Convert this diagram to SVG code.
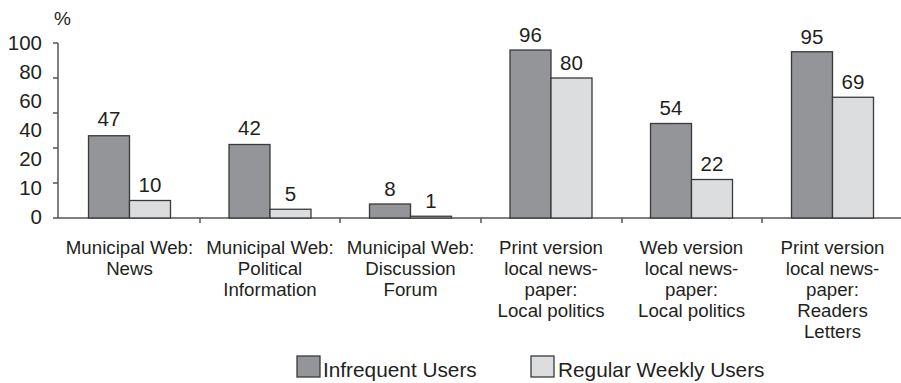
<svg xmlns="http://www.w3.org/2000/svg" width="901" height="383" viewBox="0 0 901 383">
<style>
text{font-family:"Liberation Sans",Arial,sans-serif;fill:#231f20}
.ax{font-size:20.5px;text-anchor:end}
.val{font-size:20.5px;text-anchor:middle}
.cat{font-size:18.7px;text-anchor:middle}
.leg{font-size:20.8px}
.d{fill:#939598;stroke:#3a3a3a;stroke-width:1.3}
.l{fill:#dcdddf;stroke:#3a3a3a;stroke-width:1.3}
.axis{stroke:#555;stroke-width:1.5;fill:none}
</style>
<rect width="901" height="383" fill="#fff"/>
<g id="axes">
<path class="axis" d="M58 43V218M53 218H901M53 43H58M53 78H58M53 113H58M53 148H58M53 183H58M200 218V223M340 218V223M481 218V223M622 218V223M762 218V223"/>
<text x="54" y="25" style="font-size:19px">%</text>
<text class="ax" x="42" y="50">100</text>
<text class="ax" x="42" y="79">80</text>
<text class="ax" x="42" y="108">60</text>
<text class="ax" x="42" y="137">40</text>
<text class="ax" x="42" y="166">20</text>
<text class="ax" x="42" y="195">10</text>
<text class="ax" x="42" y="224">0</text>
</g>
<g id="g1">
<rect class="d" x="88.5" y="135.75" width="41" height="82.25"/>
<rect class="l" x="129.5" y="200.5" width="41" height="17.5"/>
<text class="val" x="109" y="126">47</text>
<text class="val" x="150" y="192">10</text>
<text class="cat" x="129.5" y="254">Municipal Web:</text>
<text class="cat" x="129.5" y="275">News</text>
</g>
<g id="g2">
<rect class="d" x="229" y="144.5" width="41" height="73.5"/>
<rect class="l" x="270" y="209.25" width="41" height="8.75"/>
<text class="val" x="249.5" y="135">42</text>
<text class="val" x="290.5" y="201">5</text>
<text class="cat" x="270" y="254">Municipal Web:</text>
<text class="cat" x="270" y="275">Political</text>
<text class="cat" x="270" y="296">Information</text>
</g>
<g id="g3">
<rect class="d" x="369.5" y="204" width="41" height="14"/>
<rect class="l" x="410.5" y="216.25" width="41" height="1.75"/>
<text class="val" x="390" y="196">8</text>
<text class="val" x="431" y="208">1</text>
<text class="cat" x="410.5" y="254">Municipal Web:</text>
<text class="cat" x="410.5" y="275">Discussion</text>
<text class="cat" x="410.5" y="296">Forum</text>
</g>
<g id="g4">
<rect class="d" x="510" y="50" width="41" height="168"/>
<rect class="l" x="551" y="78" width="41" height="140"/>
<text class="val" x="530.5" y="42">96</text>
<text class="val" x="571.5" y="70">80</text>
<text class="cat" x="551" y="254">Print version</text>
<text class="cat" x="551" y="275">local news-</text>
<text class="cat" x="551" y="296">paper:</text>
<text class="cat" x="551" y="317">Local politics</text>
</g>
<g id="g5">
<rect class="d" x="650.5" y="123.5" width="41" height="94.5"/>
<rect class="l" x="691.5" y="179.5" width="41" height="38.5"/>
<text class="val" x="671" y="115">54</text>
<text class="val" x="712" y="171">22</text>
<text class="cat" x="691.5" y="254">Web version</text>
<text class="cat" x="691.5" y="275">local news-</text>
<text class="cat" x="691.5" y="296">paper:</text>
<text class="cat" x="691.5" y="317">Local politics</text>
</g>
<g id="g6">
<rect class="d" x="791.5" y="51.75" width="41" height="166.25"/>
<rect class="l" x="832.5" y="97.25" width="41" height="120.75"/>
<text class="val" x="812" y="44">95</text>
<text class="val" x="853" y="89">69</text>
<text class="cat" x="832.5" y="254">Print version</text>
<text class="cat" x="832.5" y="275">local news-</text>
<text class="cat" x="832.5" y="296">paper:</text>
<text class="cat" x="832.5" y="317">Readers</text>
<text class="cat" x="832.5" y="338">Letters</text>
</g>
<g id="legend">
<rect class="d" x="297" y="356" width="23" height="21"/>
<text class="leg" x="323" y="377">Infrequent Users</text>
<rect class="l" x="531" y="356" width="23" height="21"/>
<text class="leg" x="558" y="377">Regular Weekly Users</text>
</g>
</svg>
